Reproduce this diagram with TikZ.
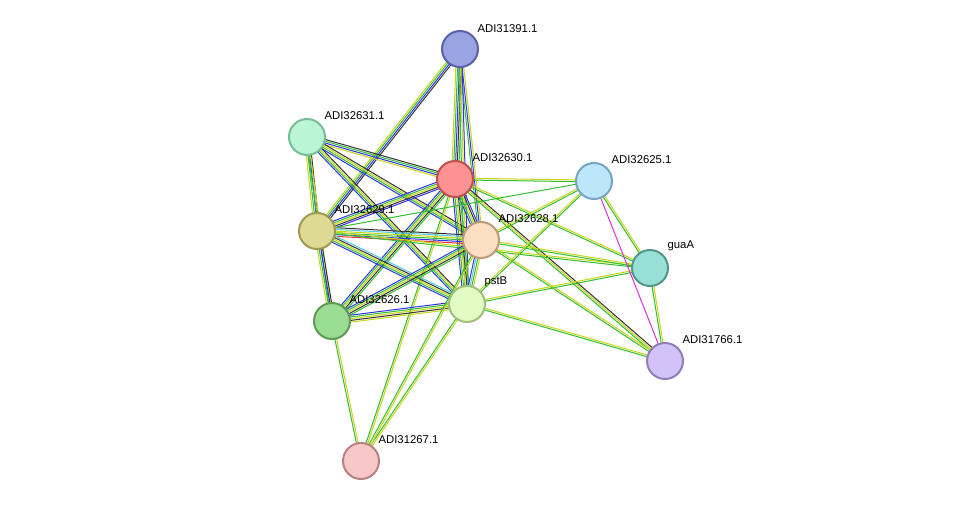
\documentclass[tikz,border=0pt]{standalone}
\usepackage{fontspec}
\setmainfont{Liberation Sans}
\usetikzlibrary{calc}
\definecolor{yl}{RGB}{200,214,20}
\definecolor{gn}{RGB}{50,190,50}
\definecolor{bl}{RGB}{50,50,235}
\definecolor{bk}{RGB}{50,50,50}
\definecolor{cy}{RGB}{80,200,230}
\definecolor{rd}{RGB}{235,50,50}
\definecolor{mg}{RGB}{215,50,215}
\newcommand\sedge[3]{%
 \foreach \c [count=\i] in {#3} {\xdef\nn{\i}}%
 \foreach \c [count=\i] in {#3} {\pgfmathsetmacro\o{(\i-(\nn+1)/2)*1.3}%
 \draw[\c, line width=0.75pt] ($(#1)!\o pt!90:(#2)$) -- ($(#2)!\o pt!-90:(#1)$);}}
\begin{document}
\begin{tikzpicture}[x=0.75pt,y=-0.75pt,
 prot/.style={circle,minimum size=27pt,inner sep=0pt,line width=1.5pt},
 lab/.style={font=\fontsize{8.5}{10}\selectfont,anchor=south west,inner sep=1pt}]
\useasboundingbox[fill=white] (0,0) rectangle (976,506);
\coordinate (a) at (460,49);
\coordinate (b) at (307,137);
\coordinate (c) at (455,179);
\coordinate (d) at (594,181);
\coordinate (e) at (317,231);
\coordinate (f) at (481,240);
\coordinate (g) at (650,268);
\coordinate (h) at (332,321);
\coordinate (p) at (467,304);
\coordinate (k) at (665,361);
\coordinate (m) at (361,461);
\sedge{a}{c}{yl,gn,bl,bk,gn}
\sedge{a}{e}{yl,gn,bl,bk}
\sedge{a}{f}{gn,bl,yl}
\sedge{a}{p}{gn,yl,bl}
\sedge{b}{e}{yl,gn,bl,bk}
\sedge{b}{h}{gn,yl}
\sedge{b}{c}{yl,bl,gn,bk}
\sedge{b}{f}{bl,gn,yl,bk}
\sedge{b}{p}{bl,gn,yl,bk}
\sedge{c}{e}{bl,gn,yl,bk,bl}
\sedge{c}{f}{bl,gn,yl,bk,bl}
\sedge{c}{p}{bl,gn,yl,bk,gn}
\sedge{c}{h}{bl,gn,yl,bk,gn}
\sedge{c}{d}{gn,yl}
\sedge{c}{g}{gn,yl}
\sedge{c}{k}{gn,yl,bk}
\sedge{c}{m}{gn,yl}
\sedge{e}{f}{rd,bl,gn,yl,cy,bk}
\sedge{e}{p}{bl,gn,yl,bk,cy}
\sedge{e}{h}{yl,gn,bl,bk}
\sedge{e}{d}{gn}
\sedge{e}{g}{gn,yl}
\sedge{f}{h}{bl,gn,yl,bk,gn}
\sedge{f}{p}{bl,cy,gn,yl}
\sedge{f}{d}{gn,yl}
\sedge{f}{g}{gn,yl}
\sedge{f}{k}{gn,yl}
\sedge{p}{h}{bl,gn,yl,bk,yl}
\sedge{p}{d}{gn,yl}
\sedge{p}{g}{gn,yl}
\sedge{p}{k}{gn,yl}
\sedge{p}{m}{gn,yl}
\sedge{f}{m}{gn,yl}
\sedge{h}{m}{gn,yl}
\sedge{d}{g}{gn,yl}
\sedge{d}{k}{mg}
\sedge{g}{k}{gn,yl}
\node[prot,fill={rgb,255:red,154;green,164;blue,226},draw={rgb,255:red,90;green,98;blue,168}] (A) at (a) {};
\node[prot,fill={rgb,255:red,186;green,246;blue,214},draw={rgb,255:red,120;green,190;blue,150}] (B) at (b) {};
\node[prot,fill={rgb,255:red,252;green,146;blue,146},draw={rgb,255:red,190;green,80;blue,80}] (C) at (c) {};
\node[prot,fill={rgb,255:red,188;green,230;blue,250},draw={rgb,255:red,120;green,165;blue,195}] (D) at (d) {};
\node[prot,fill={rgb,255:red,222;green,218;blue,150},draw={rgb,255:red,158;green,155;blue,85}] (E) at (e) {};
\node[prot,fill={rgb,255:red,252;green,222;blue,194},draw={rgb,255:red,190;green,155;blue,120}] (F) at (f) {};
\node[prot,fill={rgb,255:red,152;green,224;blue,214},draw={rgb,255:red,85;green,150;blue,140}] (G) at (g) {};
\node[prot,fill={rgb,255:red,154;green,220;blue,146},draw={rgb,255:red,95;green,155;blue,85}] (H) at (h) {};
\node[prot,fill={rgb,255:red,226;green,252;blue,196},draw={rgb,255:red,160;green,190;blue,125}] (P) at (p) {};
\node[prot,fill={rgb,255:red,210;green,194;blue,248},draw={rgb,255:red,145;green,125;blue,185}] (K) at (k) {};
\node[prot,fill={rgb,255:red,248;green,200;blue,200},draw={rgb,255:red,185;green,130;blue,130}] (M) at (m) {};
\node[lab] at (476,34) {ADI31391.1};
\node[lab] at (323,121) {ADI32631.1};
\node[lab] at (471,163) {ADI32630.1};
\node[lab] at (610,165) {ADI32625.1};
\node[lab] at (333,215) {ADI32629.1};
\node[lab] at (497,224) {ADI32628.1};
\node[lab] at (666,252) {guaA};
\node[lab] at (348,305) {ADI32626.1};
\node[lab] at (483,288) {pstB};
\node[lab] at (681,345) {ADI31766.1};
\node[lab] at (377,445) {ADI31267.1};
\end{tikzpicture}
\end{document}
